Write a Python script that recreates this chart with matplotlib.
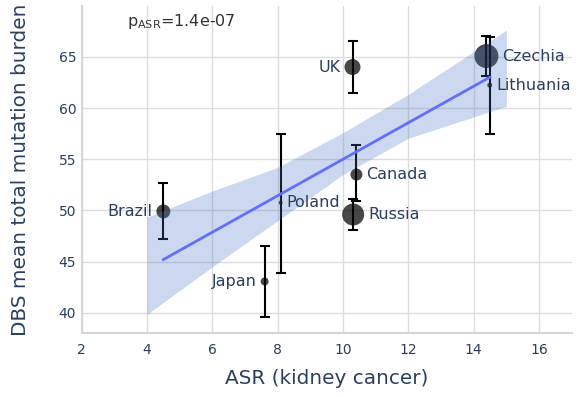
import numpy as np
import matplotlib
matplotlib.use("Agg")
import matplotlib.pyplot as plt

# data
countries = ["Brazil", "Poland", "Japan", "Canada", "Russia", "UK", "Czechia", "Lithuania"]
asr = [4.50, 8.09, 7.60, 10.41, 10.31, 10.29, 14.39, 14.49]
dbs_mean = [49.9, 50.75, 43.06, 53.5, 49.6, 64.0, 65.07, 62.23]
err_low = [47.2, 43.9, 39.57, 50.9, 48.05, 61.48, 63.1, 57.44]
err_high = [52.64, 57.5, 46.55, 56.4, 51.1, 66.56, 67.05, 66.9]
marker_px = [14, 4, 8, 12, 22, 16, 24, 5]
label_side = ["left", "right", "left", "right", "right", "left", "right", "right"]

# regression line and its band
fit_x = [4.5, 14.49]
fit_y = [45.2, 63.0]
band_x = [4, 6, 8, 10, 12, 15]
band_lo = [39.85, 44.5, 49.0, 53.5, 57.05, 60.17]
band_hi = [49.35, 51.9, 54.2, 57.6, 61.34, 67.6]

p_text = "1.4e-07"

txt = "#2a3f5f"
plt.rcParams["font.family"] = ["DejaVu Sans"]
plt.rcParams["mathtext.default"] = "regular"

fig = plt.figure(figsize=(5.81, 3.97), dpi=100)
ax = fig.add_axes([81.7 / 581, 63.7 / 397, 490 / 581, 327.7 / 397])

x = np.array(asr)
y = np.array(dbs_mean)
yerr = [y - np.array(err_low), np.array(err_high) - y]
ax.errorbar(x, y, yerr=yerr, fmt="none", ecolor="black", elinewidth=1.5,
            capsize=3.5, capthick=1.5, zorder=3)
sizes = (np.array(marker_px) * 0.72) ** 2
ax.scatter(x, y, s=sizes, color="black", alpha=0.72, lw=0, zorder=4)

# band and fit drawn over the points, like the original
ax.fill_between(band_x, band_lo, band_hi, color="#4472c4", alpha=0.27, lw=0, zorder=5)
ax.plot(fit_x, fit_y, color="#636efa", lw=2, zorder=6)

for c, xi, yi, d, side in zip(countries, asr, dbs_mean, marker_px, label_side):
    off = d / 2 + 4
    if side == "right":
        ax.annotate(c, (xi, yi), xytext=(off, 0), textcoords="offset pixels",
                    ha="left", va="center", fontsize=11.5, color=txt, zorder=7)
    else:
        ax.annotate(c, (xi, yi), xytext=(-off, 0), textcoords="offset pixels",
                    ha="right", va="center", fontsize=11.5, color=txt, zorder=7)

ax.text(3.39, 68.4, r"p$_{ASR}$=" + p_text, fontsize=11.5, color="#333333",
        ha="left", va="center")

ax.set_xlim(2, 17)
ax.set_ylim(38, 70)
ax.set_xticks(range(2, 17, 2))
ax.set_yticks(range(40, 66, 5))
ax.grid(True, color="#dddddd", lw=1, zorder=0)
ax.set_axisbelow(True)
for s in ["top", "right"]:
    ax.spines[s].set_visible(False)
for s in ["left", "bottom"]:
    ax.spines[s].set_color("#d6d6d6")
    ax.spines[s].set_linewidth(1.5)
ax.tick_params(length=0, labelsize=10, labelcolor=txt)
ax.tick_params(axis="x", pad=7)
ax.tick_params(axis="y", pad=4)

ax.set_xlabel("ASR (kidney cancer)", fontsize=14.4, color=txt)
ax.set_ylabel("DBS mean total mutation burden", fontsize=14.4, color=txt)
ax.xaxis.set_label_coords(0.5, -0.11)
ax.yaxis.set_label_coords(-0.105, 0.5)

fig.savefig("out.png", dpi=100)
